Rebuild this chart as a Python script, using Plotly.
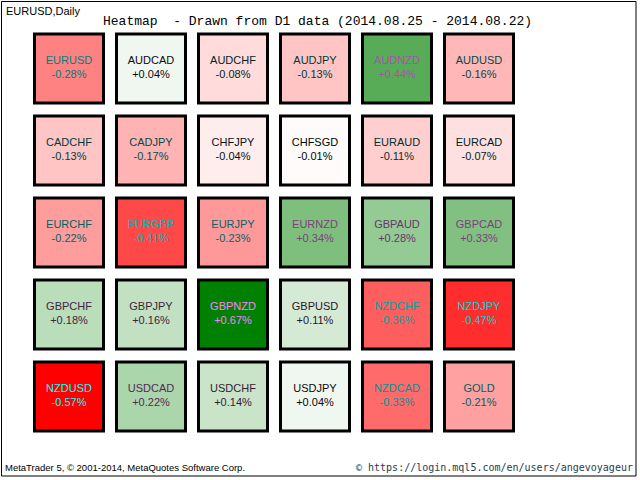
import plotly.graph_objects as go

# datos
simbolos = ["EURUSD", "AUDCAD", "AUDCHF", "AUDJPY", "AUDNZD", "AUDUSD",
            "CADCHF", "CADJPY", "CHFJPY", "CHFSGD", "EURAUD", "EURCAD",
            "EURCHF", "EURGBP", "EURJPY", "EURNZD", "GBPAUD", "GBPCAD",
            "GBPCHF", "GBPJPY", "GBPNZD", "GBPUSD", "NZDCHF", "NZDJPY",
            "NZDUSD", "USDCAD", "USDCHF", "USDJPY", "NZDCAD", "GOLD"]
cambios = [-0.28, 0.04, -0.08, -0.13, 0.44, -0.16,
           -0.13, -0.17, -0.04, -0.01, -0.11, -0.07,
           -0.22, -0.41, -0.23, 0.34, 0.28, 0.33,
           0.18, 0.16, 0.67, 0.11, -0.36, -0.47,
           -0.57, 0.22, 0.14, 0.04, -0.33, -0.21]
titulo = "Heatmap  - Drawn from D1 data (2014.08.25 - 2014.08.22)"
columnas = 6

max_pos = max(cambios)
max_neg = min(cambios)


def color_fondo(v):
    if v < 0:
        t = v / max_neg
        return (255, round(255 * (1 - t)), round(255 * (1 - t)))
    t = v / max_pos
    return (round(255 * (1 - t)), round(255 - 127 * t), round(255 * (1 - t)))


fondos = [color_fondo(v) for v in cambios]
col_fondo = ["rgb(%d,%d,%d)" % c for c in fondos]
col_texto = ["rgb(%d,%d,%d)" % (255 - c[0], 255 - c[1], 255 - c[2]) for c in fondos]
xs = [i % columnas for i in range(len(simbolos))]
ys = [i // columnas for i in range(len(simbolos))]
textos = ["%s<br>%+.2f%%" % (s, v) for s, v in zip(simbolos, cambios)]

fig = go.Figure()

fig.add_trace(go.Scatter(
    x=xs,
    y=ys,
    mode="markers+text",
    text=textos,
    textposition="middle center",
    textfont=dict(family="Liberation Sans", size=11, color=col_texto),
    marker=dict(symbol="square", size=69, color=col_fondo,
                line=dict(color="black", width=3)),
    hoverinfo="skip",
))

# marco exterior
fig.add_shape(type="rect", xref="paper", yref="paper",
              x0=1.5 / 640, x1=636 / 640, y0=1 - 476 / 480, y1=1 - 1.5 / 480,
              line=dict(color="black", width=1))

fig.add_annotation(text="EURUSD,Daily", xref="paper", yref="paper",
                   x=4 / 640, y=1 - 3 / 480, xanchor="left", yanchor="top",
                   showarrow=False, font=dict(family="Liberation Sans", size=11, color="black"))
fig.add_annotation(text=titulo, xref="paper", yref="paper",
                   x=317 / 640, y=1 - 22 / 480, xanchor="center", yanchor="middle",
                   showarrow=False, font=dict(family="Liberation Mono", size=13, color="black"))
fig.add_annotation(text="MetaTrader 5, © 2001-2014, MetaQuotes Software Corp.",
                   xref="paper", yref="paper", x=3 / 640, y=1 - 475 / 480,
                   xanchor="left", yanchor="bottom", showarrow=False,
                   font=dict(family="Liberation Sans", size=9.5, color="black"))
fig.add_annotation(text="© https://login.mql5.com/en/users/angevoyageur",
                   xref="paper", yref="paper", x=635 / 640, y=1 - 475 / 480,
                   xanchor="right", yanchor="bottom", showarrow=False,
                   font=dict(family="DejaVu Sans Mono", size=10, color="rgb(40,60,80)"))

fig.update_layout(
    width=640, height=480,
    margin=dict(l=0, r=0, t=0, b=0),
    paper_bgcolor="white", plot_bgcolor="white",
    showlegend=False,
    xaxis=dict(range=[-69 / 82, (640 - 69) / 82], visible=False, fixedrange=True),
    yaxis=dict(range=[(480 - 68.5) / 82, -68.5 / 82], visible=False, fixedrange=True),
)

# sin margen en la pagina para que la figura ocupe toda la ventana
fig.write_html("out.html", config={"displayModeBar": False},
               post_script="document.body.style.margin='0';document.body.style.overflow='hidden';")
